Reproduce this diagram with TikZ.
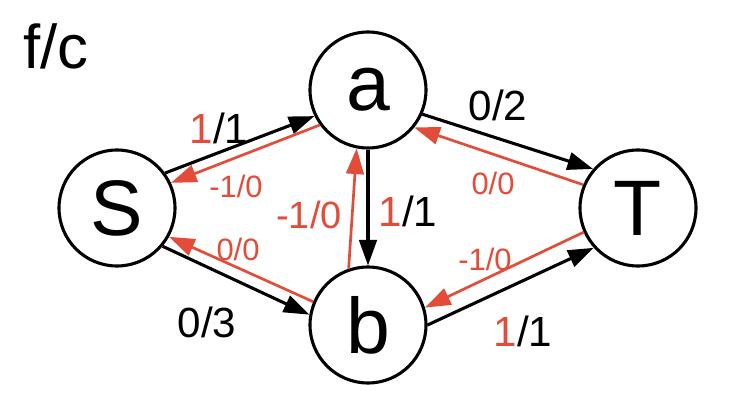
\documentclass[tikz,border=0pt]{standalone}
\usepackage{fontspec}
\setmainfont{Liberation Sans}
\usetikzlibrary{arrows.meta}

\definecolor{resred}{RGB}{226,76,56}

\begin{document}
\begin{tikzpicture}[
  vertex/.style={circle, draw=black, line width=2.2pt, minimum size=2.9cm, inner sep=0pt, font=\fontsize{56}{56}\selectfont},
  flow/.style={draw=black, line width=2.2pt, -{Triangle[length=0.64cm, width=0.44cm]}},
  resid/.style={draw=resred, line width=1.9pt, -{Triangle[length=0.64cm, width=0.44cm]}},
  flowlbl/.style={font=\fontsize{30}{30}\selectfont, inner sep=1pt},
  reslbl/.style={font=\fontsize{22}{22}\selectfont, text=resred, inner sep=1pt},
]
\useasboundingbox (0,0) rectangle (18.35,10.1);

% legend
\node[font=\fontsize{44}{44}\selectfont] (fc) at (1.4, 8.95) {f/c};

% vertices
\node[vertex] (S) at (2.925, 4.9)  {S};
\node[vertex] (a) at (9.2, 7.85)   {a};
\node[vertex] (b) at (9.2, 1.975)  {b};
\node[vertex] (T) at (15.95, 4.9)  {T};

% flow edges (black) and residual edges (red)
\draw[flow]  (S.36)  -- (a.206);
\draw[resid] (a.216) -- (S.25);
\draw[flow]  (a.-24) -- (T.139);
\draw[resid] (T.157) -- (a.-39);
\draw[flow]  (a.south) -- (b.north);
\draw[resid] (b.109) -- (a.259);
\draw[flow]  (S.-40) -- (b.170);
\draw[resid] (b.157) -- (S.-29);
\draw[flow]  (b.0)   -- (T.222);
\draw[resid] (T.204) -- (b.17);

% labels
\node[flowlbl] (Sa) at (5.475, 6.9)  {\textcolor{resred}{1}/1};
\node[flowlbl] (aT) at (12.45, 7.475) {0/2};
\node[flowlbl] (ab) at (10.2, 4.825) {\textcolor{resred}{1}/1};
\node[flowlbl] (Sb) at (5.175, 2.05) {0/3};
\node[flowlbl] (bT) at (13.075, 1.825) {\textcolor{resred}{1}/1};

\node[reslbl] (aS) at (5.9, 5.45)   {-1/0};
\node[reslbl] (Ta) at (12.325, 5.525) {0/0};
\node[reslbl, font=\fontsize{27}{27}\selectfont] (ba) at (7.725, 4.725) {-1/0};
\node[reslbl] (bS) at (5.95, 3.875) {0/0};
\node[reslbl] (Tb) at (12.125, 3.625) {-1/0};

\end{tikzpicture}
\end{document}
